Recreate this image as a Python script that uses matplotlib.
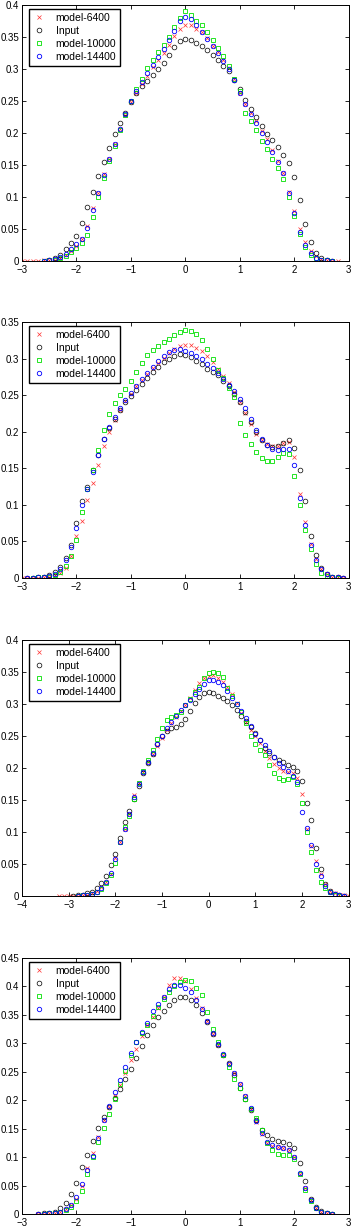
import numpy as np
import matplotlib
matplotlib.use("Agg")
import matplotlib.pyplot as plt
from matplotlib.ticker import FormatStrFormatter, MultipleLocator

plt.rcParams['font.family'] = ['Liberation Sans', 'DejaVu Sans']

labels = ['model-6400', 'Input', 'model-10000', 'model-14400']

# ---- panel 1 : values read every 0.1 on x, (start, end) of each series ----
p1_range = [(-3.0, 2.8), (-2.5, 2.7), (-2.6, 2.7), (-2.6, 2.7)]
p1_red = [0, 0, 0, 0, 0.001, 0.001, 0.002, 0.005, 0.01, 0.016, 0.024, 0.034, 0.055, 0.083, 0.107, 0.136,
          0.16, 0.183, 0.206, 0.228, 0.248, 0.262, 0.276, 0.289, 0.303, 0.314, 0.325, 0.337, 0.352, 0.362,
          0.369, 0.369, 0.362, 0.358, 0.348, 0.336, 0.326, 0.314, 0.302, 0.285, 0.262, 0.245, 0.232, 0.218,
          0.203, 0.19, 0.174, 0.157, 0.138, 0.108, 0.078, 0.05, 0.03, 0.016, 0.008, 0.003, 0.001, 0, 0]
p1_input = [0.001, 0.004, 0.01, 0.018, 0.028, 0.039, 0.06, 0.085, 0.108, 0.133, 0.155, 0.176, 0.198, 0.216,
            0.232, 0.249, 0.262, 0.273, 0.282, 0.291, 0.3, 0.31, 0.322, 0.335, 0.343, 0.347, 0.346, 0.341,
            0.336, 0.33, 0.322, 0.314, 0.305, 0.297, 0.283, 0.268, 0.252, 0.238, 0.225, 0.211, 0.198, 0.189,
            0.178, 0.166, 0.153, 0.132, 0.095, 0.058, 0.03, 0.013, 0.005, 0.002, 0]
p1_green = [0, 0.001, 0.002, 0.004, 0.008, 0.014, 0.02, 0.028, 0.04, 0.068, 0.1, 0.13, 0.157, 0.18, 0.205,
            0.228, 0.25, 0.268, 0.285, 0.302, 0.314, 0.326, 0.338, 0.35, 0.365, 0.38, 0.39, 0.385, 0.375,
            0.368, 0.358, 0.345, 0.333, 0.32, 0.305, 0.285, 0.265, 0.232, 0.218, 0.205, 0.188, 0.175, 0.16,
            0.145, 0.128, 0.1, 0.07, 0.042, 0.022, 0.01, 0.005, 0.002, 0.001, 0]
p1_blue = [0, 0.001, 0.003, 0.006, 0.011, 0.018, 0.026, 0.034, 0.052, 0.08, 0.106, 0.134, 0.16, 0.183, 0.207,
           0.23, 0.25, 0.266, 0.28, 0.294, 0.307, 0.319, 0.332, 0.345, 0.36, 0.375, 0.382, 0.378, 0.368,
           0.358, 0.347, 0.336, 0.325, 0.312, 0.3, 0.283, 0.262, 0.245, 0.23, 0.215, 0.2, 0.186, 0.17, 0.155,
           0.137, 0.107, 0.075, 0.046, 0.025, 0.012, 0.005, 0.002, 0.001, 0]

# ---- panel 2 ----
p2_range = [(-3.0, 2.9), (-2.9, 2.9), (-2.8, 2.8), (-2.9, 2.9)]
p2_red = [0, 0, 0, 0, 0.001, 0.002, 0.004, 0.007, 0.014, 0.03, 0.058, 0.078, 0.106, 0.13, 0.155, 0.18, 0.2,
          0.216, 0.23, 0.242, 0.252, 0.262, 0.271, 0.279, 0.287, 0.294, 0.301, 0.308, 0.313, 0.317, 0.319,
          0.318, 0.315, 0.311, 0.303, 0.295, 0.286, 0.276, 0.267, 0.254, 0.24, 0.225, 0.21, 0.197, 0.188,
          0.183, 0.18, 0.18, 0.184, 0.186, 0.165, 0.115, 0.077, 0.047, 0.026, 0.012, 0.005, 0.002, 0.001, 0]
p2_input = [0, 0, 0.001, 0.002, 0.004, 0.008, 0.015, 0.028, 0.045, 0.075, 0.105, 0.125, 0.148, 0.168, 0.19,
            0.205, 0.218, 0.23, 0.24, 0.249, 0.257, 0.265, 0.273, 0.281, 0.288, 0.295, 0.3, 0.304, 0.306,
            0.305, 0.302, 0.297, 0.292, 0.286, 0.282, 0.277, 0.27, 0.262, 0.252, 0.24, 0.227, 0.213, 0.199,
            0.188, 0.182, 0.179, 0.18, 0.185, 0.188, 0.178, 0.148, 0.105, 0.058, 0.032, 0.014, 0.006, 0.002,
            0.001, 0]
p2_green = [0, 0.001, 0.001, 0.002, 0.004, 0.008, 0.016, 0.03, 0.052, 0.09, 0.122, 0.148, 0.175, 0.203,
            0.224, 0.239, 0.25, 0.259, 0.27, 0.282, 0.294, 0.305, 0.312, 0.317, 0.322, 0.327, 0.332, 0.337,
            0.339, 0.338, 0.334, 0.326, 0.313, 0.3, 0.285, 0.273, 0.26, 0.248, 0.212, 0.196, 0.183, 0.172,
            0.164, 0.16, 0.16, 0.165, 0.171, 0.17, 0.14, 0.1, 0.065, 0.04, 0.019, 0.007, 0.003, 0.001, 0]
p2_blue = [0, 0, 0.001, 0.002, 0.003, 0.006, 0.012, 0.024, 0.042, 0.068, 0.1, 0.122, 0.145, 0.168, 0.19,
           0.207, 0.22, 0.232, 0.243, 0.253, 0.263, 0.272, 0.28, 0.288, 0.296, 0.303, 0.309, 0.312, 0.313,
           0.311, 0.308, 0.304, 0.299, 0.293, 0.287, 0.28, 0.272, 0.264, 0.255, 0.245, 0.232, 0.217, 0.202,
           0.19, 0.182, 0.177, 0.175, 0.177, 0.176, 0.155, 0.11, 0.073, 0.045, 0.025, 0.012, 0.005, 0.002,
           0.001, 0]

# ---- panel 3 ----
p3_range = [(-3.2, 3.0), (-2.9, 2.9), (-2.8, 2.8), (-2.8, 2.9)]
p3_red = [0, 0, 0, 0, 0, 0.001, 0.002, 0.004, 0.008, 0.014, 0.022, 0.035, 0.06, 0.085, 0.104, 0.128, 0.158,
          0.177, 0.194, 0.21, 0.222, 0.234, 0.247, 0.259, 0.27, 0.28, 0.289, 0.299, 0.309, 0.322, 0.333,
          0.34, 0.344, 0.345, 0.341, 0.334, 0.326, 0.315, 0.302, 0.286, 0.272, 0.26, 0.25, 0.239, 0.226,
          0.215, 0.206, 0.2, 0.196, 0.194, 0.192, 0.184, 0.16, 0.105, 0.078, 0.055, 0.034, 0.018, 0.008,
          0.004, 0.002, 0.001, 0]
p3_input = [0, 0.001, 0.002, 0.004, 0.007, 0.012, 0.02, 0.032, 0.048, 0.066, 0.09, 0.115, 0.133, 0.152,
            0.172, 0.192, 0.208, 0.222, 0.238, 0.25, 0.258, 0.262, 0.264, 0.268, 0.277, 0.289, 0.302, 0.311,
            0.317, 0.319, 0.317, 0.313, 0.309, 0.304, 0.299, 0.29, 0.282, 0.273, 0.264, 0.255, 0.244, 0.232,
            0.223, 0.217, 0.213, 0.209, 0.205, 0.202, 0.195, 0.18, 0.145, 0.118, 0.075, 0.042, 0.019, 0.008,
            0.003, 0.001, 0]
p3_green = [0, 0.001, 0.002, 0.003, 0.006, 0.011, 0.02, 0.033, 0.052, 0.085, 0.108, 0.125, 0.152, 0.176,
            0.195, 0.212, 0.228, 0.245, 0.262, 0.275, 0.28, 0.283, 0.287, 0.298, 0.308, 0.318, 0.327, 0.34,
            0.348, 0.35, 0.348, 0.342, 0.325, 0.312, 0.3, 0.287, 0.27, 0.25, 0.237, 0.228, 0.22, 0.205,
            0.192, 0.185, 0.182, 0.183, 0.186, 0.175, 0.145, 0.1, 0.068, 0.04, 0.022, 0.012, 0.006, 0.002, 0]
p3_blue = [0, 0.001, 0.002, 0.003, 0.006, 0.012, 0.022, 0.036, 0.058, 0.085, 0.105, 0.128, 0.155, 0.175,
           0.193, 0.209, 0.223, 0.237, 0.25, 0.262, 0.272, 0.281, 0.29, 0.298, 0.306, 0.315, 0.324, 0.332,
           0.337, 0.338, 0.335, 0.329, 0.32, 0.31, 0.3, 0.289, 0.278, 0.266, 0.253, 0.244, 0.236, 0.226,
           0.217, 0.208, 0.201, 0.195, 0.188, 0.178, 0.132, 0.106, 0.08, 0.05, 0.031, 0.015, 0.006, 0.003,
           0.001, 0]

# ---- panel 4 ----
p4_range = [(-2.7, 2.7), (-2.7, 2.7), (-2.6, 2.7), (-2.7, 2.7)]
p4_red = [0, 0, 0.001, 0.002, 0.004, 0.008, 0.015, 0.027, 0.05, 0.08, 0.108, 0.135, 0.165, 0.188, 0.208,
          0.227, 0.247, 0.27, 0.29, 0.313, 0.332, 0.347, 0.362, 0.382, 0.403, 0.415, 0.414, 0.41, 0.396,
          0.38, 0.362, 0.34, 0.317, 0.297, 0.28, 0.263, 0.248, 0.228, 0.208, 0.185, 0.162, 0.14, 0.125,
          0.12, 0.118, 0.116, 0.112, 0.1, 0.07, 0.045, 0.024, 0.01, 0.004, 0.001, 0]
p4_input = [0, 0.001, 0.002, 0.004, 0.01, 0.02, 0.035, 0.055, 0.082, 0.104, 0.128, 0.151, 0.17, 0.188,
            0.204, 0.22, 0.238, 0.255, 0.275, 0.295, 0.314, 0.332, 0.346, 0.357, 0.368, 0.376, 0.381, 0.382,
            0.377, 0.368, 0.354, 0.337, 0.316, 0.297, 0.28, 0.265, 0.245, 0.222, 0.203, 0.183, 0.165, 0.148,
            0.138, 0.132, 0.129, 0.126, 0.123, 0.116, 0.09, 0.058, 0.026, 0.012, 0.005, 0.002, 0]
p4_green = [0, 0.001, 0.002, 0.004, 0.007, 0.013, 0.022, 0.04, 0.07, 0.1, 0.126, 0.152, 0.175, 0.203, 0.228,
            0.252, 0.28, 0.302, 0.318, 0.333, 0.348, 0.364, 0.378, 0.39, 0.4, 0.408, 0.411, 0.41, 0.398,
            0.385, 0.355, 0.325, 0.302, 0.28, 0.258, 0.238, 0.222, 0.203, 0.185, 0.168, 0.148, 0.125, 0.112,
            0.106, 0.104, 0.104, 0.097, 0.07, 0.043, 0.022, 0.01, 0.004, 0.001, 0]
p4_blue = [0, 0, 0.001, 0.002, 0.004, 0.008, 0.016, 0.03, 0.052, 0.078, 0.102, 0.133, 0.165, 0.19, 0.214,
           0.236, 0.259, 0.283, 0.303, 0.32, 0.335, 0.357, 0.37, 0.382, 0.396, 0.403, 0.402, 0.398, 0.39,
           0.376, 0.36, 0.339, 0.318, 0.298, 0.281, 0.264, 0.247, 0.228, 0.208, 0.186, 0.163, 0.142, 0.127,
           0.121, 0.118, 0.116, 0.112, 0.1, 0.072, 0.046, 0.025, 0.011, 0.004, 0.001, 0]

panels = [
    (p1_range, [p1_red, p1_input, p1_green, p1_blue], (-3, 3), (0, 0.4)),
    (p2_range, [p2_red, p2_input, p2_green, p2_blue], (-3, 3), (0, 0.35)),
    (p3_range, [p3_red, p3_input, p3_green, p3_blue], (-4, 3), (0, 0.4)),
    (p4_range, [p4_red, p4_input, p4_green, p4_blue], (-3, 3), (0, 0.45)),
]

styles = [
    dict(marker='x', color='#ff3030', mew=0.5, ms=3.0),
    dict(marker='o', color='black', mfc='none', mew=0.5, ms=3.4),
    dict(marker='s', color='#00e000', mfc='none', mew=0.6, ms=3.2),
    dict(marker='o', color='#0000ff', mfc='none', mew=0.6, ms=3.2),
]

fig = plt.figure(figsize=(3.52, 12.28), dpi=100)
W, H = 352.0, 1228.0
bottoms = [261, 578, 896, 1214]

for (rng, series, xl, yl), b in zip(panels, bottoms):
    ax = fig.add_axes([22 / W, 1 - b / H, 326.7 / W, 256 / H])
    for (x0, x1), ys, lab, st in zip(rng, series, labels, styles):
        xs = np.linspace(x0, x1, len(ys))
        ax.plot(xs, ys, linestyle='none', label=lab, **st)
    ax.set_xlim(*xl)
    ax.set_ylim(*yl)
    ax.xaxis.set_major_locator(MultipleLocator(1))
    ax.yaxis.set_major_locator(MultipleLocator(0.05))
    ax.yaxis.set_major_formatter(FormatStrFormatter('%g'))
    ax.tick_params(direction='in', top=True, right=True, length=3, width=0.6, labelsize=7)
    ax.tick_params(axis='x', pad=3)
    ax.tick_params(axis='y', pad=2)
    for sp in ax.spines.values():
        sp.set_linewidth(0.7)
    leg = ax.legend(loc='upper left', bbox_to_anchor=(7 / 326.7, 1 - 4 / 256),
                    borderaxespad=0, fontsize=7.5, handlelength=1.2, handletextpad=1.0,
                    labelspacing=0.3, borderpad=0.35, fancybox=False, framealpha=1,
                    edgecolor='black')
    leg.get_frame().set_linewidth(1.0)

fig.savefig('out.png', dpi=100)
